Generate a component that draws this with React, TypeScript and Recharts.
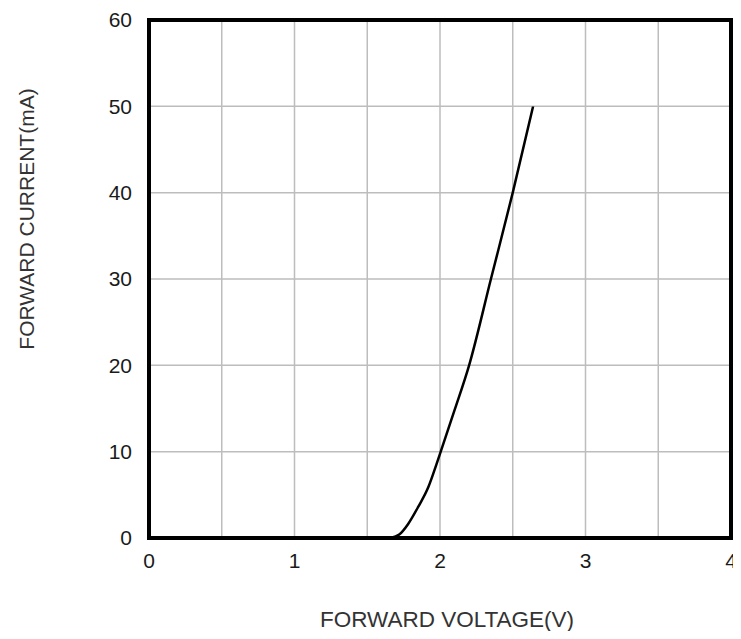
import React from "react";
import { LineChart, Line, XAxis, YAxis, CartesianGrid, ReferenceArea } from "recharts";

// forward voltage (V) vs forward current (mA)
const voltage = [1.66, 1.72, 1.78, 1.85, 1.92, 1.975, 2.005, 2.1, 2.2, 2.35, 2.5, 2.64];
const current = [0, 0.4, 1.6, 3.6, 5.9, 8.5, 10, 14.8, 20, 30, 40, 50];

const xTicks = [0, 0.5, 1, 1.5, 2, 2.5, 3, 3.5, 4];
const yTicks = [0, 10, 20, 30, 40, 50, 60];

const xTitle = "FORWARD VOLTAGE(V)";
const yTitle = "FORWARD CURRENT(mA)";

const data = voltage.map((v, i) => ({ v, i: current[i] }));

const font = "'Liberation Sans', Arial, sans-serif";

const App: React.FC = () => {
    return (
        <div style={{ width: 725, height: 623 }}>
            <LineChart
                width={733}
                height={631}
                data={data}
                margin={{ top: 12, right: 10, bottom: 41, left: 0 }}
            >
                <CartesianGrid stroke="#bdbdbd" strokeWidth={1.5} />
                <XAxis
                    dataKey="v"
                    type="number"
                    domain={[0, 4]}
                    ticks={xTicks}
                    interval={0}
                    height={60}
                    axisLine={false}
                    tickLine={false}
                    tickSize={0}
                    tickMargin={15}
                    tickFormatter={(t: number) => (Number.isInteger(t) ? String(t) : "")}
                    tick={{ fill: "#1a1a1a", fontSize: 21, fontFamily: font }}
                    label={{
                        content: (p: any) => {
                            const vb = p.viewBox;
                            return (
                                <text
                                    x={vb.x + vb.width / 2 + 7}
                                    y={vb.y + 89}
                                    textAnchor="middle"
                                    fill="#333"
                                    fontSize={22.5}
                                    fontFamily={font}
                                >
                                    {xTitle}
                                </text>
                            );
                        },
                    }}
                />
                <YAxis
                    type="number"
                    domain={[0, 60]}
                    ticks={yTicks}
                    interval={0}
                    width={141}
                    axisLine={false}
                    tickLine={false}
                    tickSize={0}
                    tickMargin={17}
                    tick={{ fill: "#1a1a1a", fontSize: 21, fontFamily: font }}
                    label={{
                        content: (p: any) => {
                            const vb = p.viewBox;
                            const cx = vb.x + 18;
                            const cy = vb.y + vb.height / 2 - 60;
                            return (
                                <text
                                    x={cx}
                                    y={cy}
                                    transform={`rotate(-90, ${cx}, ${cy})`}
                                    textAnchor="middle"
                                    dominantBaseline="central"
                                    fill="#333"
                                    fontSize={21}
                                    fontFamily={font}
                                >
                                    {yTitle}
                                </text>
                            );
                        },
                    }}
                />
                <ReferenceArea
                    x1={0}
                    x2={4}
                    y1={0}
                    y2={60}
                    fill="none"
                    stroke="#000"
                    strokeWidth={4}
                    ifOverflow="visible"
                />
                <Line
                    dataKey="i"
                    type="monotone"
                    stroke="#000"
                    strokeWidth={2.5}
                    dot={false}
                    isAnimationActive={false}
                />
            </LineChart>
        </div>
    );
};

export default App;
